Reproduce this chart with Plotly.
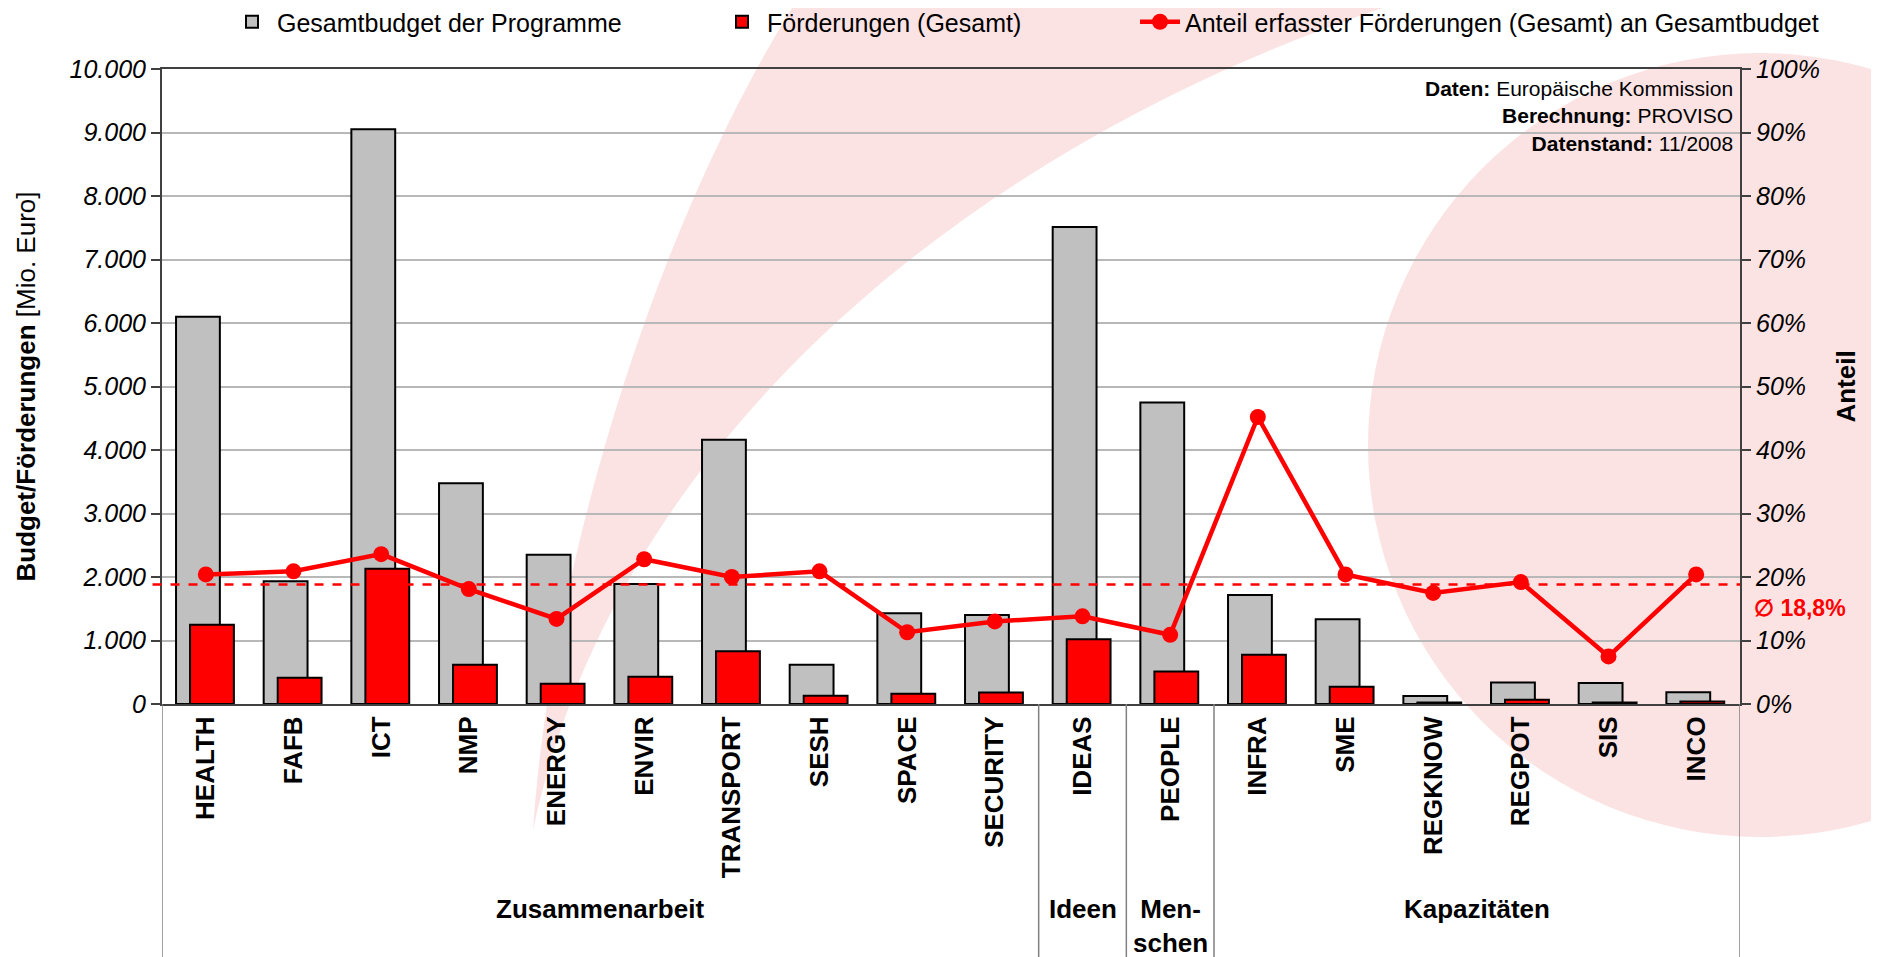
import plotly.graph_objects as go

categories = ["HEALTH", "FAFB", "ICT", "NMP", "ENERGY", "ENVIR", "TRANSPORT", "SESH",
              "SPACE", "SECURITY", "IDEAS", "PEOPLE", "INFRA", "SME", "REGKNOW",
              "REGPOT", "SIS", "INCO"]
budget = [6100, 1935, 9050, 3475, 2350, 1890, 4160, 620, 1430, 1400, 7510, 4750,
          1715, 1336, 126, 340, 330, 185]
funding = [1250, 415, 2130, 620, 320, 430, 830, 130, 160, 180, 1020, 510,
           775, 270, 22, 65, 25, 38]
share = [0.204, 0.209, 0.236, 0.181, 0.134, 0.228, 0.200, 0.209, 0.113, 0.130,
         0.138, 0.109, 0.452, 0.204, 0.175, 0.192, 0.075, 0.204]
average_share = 0.188
groups = ["Zusammenarbeit", "Ideen", "Men-<br>schen", "Kapazitäten"]
group_first = [0, 10, 11, 12]
group_last = [9, 10, 11, 17]

# page geometry (the html body has an 8px margin)
PAGE_W, PAGE_H, OFF = 1879, 957, 8
W, H = PAGE_W - OFF, PAGE_H - OFF
L, R, T, B = 162, 1740, 69, 704          # plot area in page pixels
PW, PH = R - L, B - T


def px(x):
    return (x - L) / PW


def py(y):
    return (B - y) / PH


def pt(x, y):
    return f"{px(x):.5f},{py(y):.5f}"


FONT = "Liberation Sans, Arial, sans-serif"
PINK = "#fce3e3"

fig = go.Figure()
fig.add_trace(go.Bar(x=categories, y=budget, name="Gesamtbudget der Programme",
                     marker=dict(color="#c0c0c0", line=dict(color="black", width=2)),
                     width=0.5, offset=-0.34, legend="legend", showlegend=True))
fig.add_trace(go.Bar(x=categories, y=funding, name="Förderungen (Gesamt)",
                     marker=dict(color="#ff0000", line=dict(color="black", width=2)),
                     width=0.5, offset=-0.18, legend="legend2", showlegend=True))
fig.add_trace(go.Scatter(x=categories, y=share, yaxis="y2", mode="lines+markers",
                         name="Anteil erfasster Förderungen (Gesamt) an Gesamtbudget",
                         line=dict(color="#ff0000", width=4.5),
                         marker=dict(color="#ff0000", size=16), legend="legend3",
                         showlegend=True))

shapes = []
# background swoosh
swoosh = ("M " + pt(533, 830) + " C " + pt(548, 600) + " " + pt(640, 250) + " " + pt(797, 0)
          + " L " + pt(840, -40) + " L " + pt(1500, -40) + " L " + pt(1407, 0)
          + " C " + pt(1000, 130) + " " + pt(620, 420) + " " + pt(533, 830) + " Z")
shapes.append(dict(type="path", xref="paper", yref="paper", path=swoosh,
                   fillcolor=PINK, line=dict(width=0), layer="below"))
# background circle
shapes.append(dict(type="circle", xref="paper", yref="paper",
                   x0=px(1368), x1=px(2152), y0=py(837), y1=py(53),
                   fillcolor=PINK, line=dict(width=0), layer="below"))
# average line
shapes.append(dict(type="line", xref="paper", yref="y2", x0=-0.006, x1=1,
                   y0=average_share, y1=average_share,
                   line=dict(color="#ff0000", width=2.5, dash="dash")))
# group separators
for sep in [-0.5] + [g - 0.5 for g in group_first[1:]] + [len(categories) - 0.5]:
    shapes.append(dict(type="line", xref="x", yref="paper", x0=sep, x1=sep,
                       y0=0, y1=py(PAGE_H), line=dict(color="#808080", width=1.5)))

annotations = []
for g, a, b in zip(groups, group_first, group_last):
    annotations.append(dict(text=f"<b>{g}</b>", xref="x", yref="paper", x=(a + b) / 2,
                            y=py(892), yanchor="top", xanchor="center", showarrow=False,
                            font=dict(family=FONT, size=26, color="black")))
annotations.append(dict(text="<b>Daten:</b> Europäische Kommission<br><b>Berechnung:</b> PROVISO"
                             "<br><b>Datenstand:</b> 11/2008",
                        xref="paper", yref="paper", x=px(1735), y=py(75), xanchor="right",
                        yanchor="top", align="right", showarrow=False,
                        font=dict(family=FONT, size=21, color="black")))
annotations.append(dict(text="<b>∅ 18,8%</b>", xref="paper", yref="y2", x=px(1752),
                        y=average_share, yshift=-23, xanchor="left", yanchor="middle",
                        showarrow=False, font=dict(family=FONT, size=23, color="#ff0000")))

legend_font = dict(family=FONT, size=25, color="black")


def legend_at(text_start):
    return dict(orientation="h", x=px(text_start - 51), y=py(22), xanchor="left",
                yanchor="middle", bgcolor="rgba(0,0,0,0)", font=legend_font, itemwidth=40)


fig.update_layout(
    width=W, height=H,
    margin=dict(l=L - OFF, r=PAGE_W - R, t=T - OFF, b=PAGE_H - B, autoexpand=False),
    paper_bgcolor="white", plot_bgcolor="rgba(0,0,0,0)",
    separators=",.",
    barmode="overlay",
    showlegend=True,
    font=dict(family=FONT, color="black"),
    legend=legend_at(278),
    legend2=legend_at(768),
    legend3=legend_at(1186),
    xaxis=dict(type="category", range=[-0.5, len(categories) - 0.5],
               showline=True, linecolor="#404040", linewidth=2, mirror=True,
               ticks="", tickangle=-90, automargin=False,
               tickfont=dict(family=FONT, size=26, color="black", weight="bold")),
    yaxis=dict(range=[0, 10000], dtick=1000, tickformat=",d", automargin=False,
               showline=True, linecolor="#404040", linewidth=2,
               ticks="outside", ticklen=9, tickcolor="#404040", tickwidth=2,
               showgrid=True, gridcolor="#b8b8b8", gridwidth=2, zeroline=False,
               tickfont=dict(family=FONT, size=25, color="black", style="italic"),
               title=dict(text="<b>Budget/Förderungen</b> [Mio. Euro]", standoff=26,
                          font=dict(family=FONT, size=26, color="black"))),
    yaxis2=dict(range=[0, 1], dtick=0.1, tickformat=".0%", overlaying="y", side="right",
                showline=True, linecolor="#404040", linewidth=2, automargin=False,
                ticks="outside", ticklen=9, tickcolor="#404040", tickwidth=2,
                showgrid=False, zeroline=False,
                tickfont=dict(family=FONT, size=25, color="black", style="italic"),
                title=dict(text="<b>Anteil</b>", standoff=18,
                           font=dict(family=FONT, size=26, color="black"))),
    shapes=shapes,
    annotations=annotations,
)

fig.write_html("out.html")
